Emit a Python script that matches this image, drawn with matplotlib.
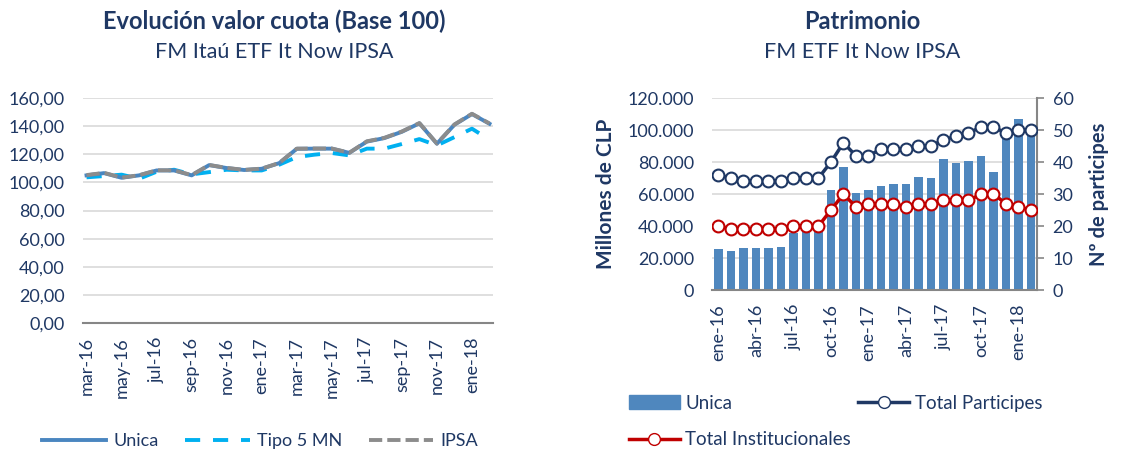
import matplotlib.pyplot as plt
from matplotlib.patches import Patch
from matplotlib.lines import Line2D
from matplotlib.ticker import FuncFormatter

# Evolucion valor cuota (mar-16 .. feb-18)
months_left = [
    "mar-16", "abr-16", "may-16", "jun-16", "jul-16", "ago-16",
    "sep-16", "oct-16", "nov-16", "dic-16", "ene-17", "feb-17",
    "mar-17", "abr-17", "may-17", "jun-17", "jul-17", "ago-17",
    "sep-17", "oct-17", "nov-17", "dic-17", "ene-18", "feb-18",
]
unica = [105.0, 106.6, 103.3, 105.0, 108.5, 108.5, 105.0, 112.3, 110.2, 108.8, 109.7, 113.7,
         123.9, 124.0, 124.0, 121.0, 129.0, 131.5, 136.0, 142.0, 127.5, 141.0, 148.6, 141.7]
tipo5 = [103.6, 104.5, 105.5, 102.6, 107.6, 109.0, 105.7, 107.3, 109.0, 108.5, 108.5, 112.6,
         118.0, 119.7, 120.9, 119.2, 124.0, 124.0, 127.3, 130.8, 126.3, 132.2, 138.2, 130.3]
ipsa = [105.2, 106.8, 103.4, 105.1, 108.6, 108.6, 105.2, 112.4, 110.3, 108.9, 109.8, 113.8,
        124.0, 124.1, 124.1, 121.1, 129.2, 131.7, 136.2, 142.2, 127.6, 141.2, 148.8, 141.9]

# Patrimonio (ene-16 .. feb-18)
months_right = [
    "ene-16", "feb-16", "mar-16", "abr-16", "may-16", "jun-16", "jul-16",
    "ago-16", "sep-16", "oct-16", "nov-16", "dic-16", "ene-17", "feb-17",
    "mar-17", "abr-17", "may-17", "jun-17", "jul-17", "ago-17", "sep-17",
    "oct-17", "nov-17", "dic-17", "ene-18", "feb-18",
]
patrimonio = [25500, 24600, 26300, 26300, 26300, 26700, 35500, 37200, 38000, 62400, 77000, 60800, 62400,
              65100, 66000, 66000, 70400, 70000, 82000, 79700, 80400, 83500, 73900, 95500, 106900, 98500]
total_participes = [36, 35, 34, 34, 34, 34, 35, 35, 35, 40, 46, 42, 42,
                    44, 44, 44, 45, 45, 47, 48, 49, 51, 51, 49, 50, 50]
total_institucionales = [20, 19, 19, 19, 19, 19, 20, 20, 20, 25, 30, 26, 27,
                         27, 27, 26, 27, 27, 28, 28, 28, 30, 30, 27, 26, 25]

navy = "#1f3864"
grid_c = "#d9d9d9"
bar_c = "#4f87be"
plt.rcParams["font.family"] = ["Lato", "DejaVu Sans"]

fig = plt.figure(figsize=(11.25, 4.54), dpi=100)

# ---------------- left chart ----------------
ax1 = fig.add_axes([0.0738, 0.2885, 0.3644, 0.4956])
x1 = range(len(months_left))
ax1.plot(x1, unica, color="#4a86c0", lw=2.8, label="Unica", zorder=3)
ax1.plot(x1, tipo5, color="#00b0f0", lw=2.8, ls=(0, (3.9, 3.3)), label="Tipo 5 MN", zorder=2)
ax1.plot(x1, ipsa, color="#8c8c8c", lw=2.8, ls=(0, (3.4, 1.3)), label="IPSA", zorder=4)
ax1.set_ylim(0, 160)
ax1.set_xlim(-0.2, len(months_left) - 0.8)
ax1.set_yticks(range(0, 161, 20))
ax1.yaxis.set_major_formatter(FuncFormatter(lambda v, p: f"{v:.2f}".replace(".", ",")))
ax1.set_xticks(list(x1)[::2])
ax1.set_xticklabels(months_left[::2], rotation=90)
ax1.grid(axis="y", color=grid_c, lw=1.2)
ax1.set_axisbelow(True)
for s in ["top", "right", "left"]:
    ax1.spines[s].set_visible(False)
ax1.spines["bottom"].set_color("#868686")
ax1.spines["bottom"].set_linewidth(1.5)
ax1.tick_params(length=0, colors=navy, labelsize=13)
ax1.tick_params(axis="y", pad=13)
ax1.tick_params(axis="x", pad=10)
fig.text(0.244, 0.952, "Evolución valor cuota (Base 100)", ha="center", va="center",
         fontsize=17, fontweight="bold", color=navy)
fig.text(0.244, 0.885, "FM Itaú ETF It Now IPSA", ha="center", va="center", fontsize=15.5, color=navy)
fig.legend(handles=ax1.get_lines(), loc="center", bbox_to_anchor=(0.231, 0.029), ncol=3,
           frameon=False, fontsize=13, handlelength=3.55, columnspacing=1.5, handletextpad=0.4,
           labelcolor=navy)

# ---------------- right chart ----------------
ax2 = fig.add_axes([0.633, 0.361, 0.289, 0.423])
x2 = range(len(months_right))
ax2.bar(x2, patrimonio, width=0.68, color=bar_c, zorder=2)
ax2.set_ylim(0, 120000)
ax2.set_xlim(-0.5, len(months_right) - 0.5)
ax2.set_yticks(range(0, 120001, 20000))
ax2.yaxis.set_major_formatter(FuncFormatter(lambda v, p: f"{int(v):,}".replace(",", ".")))
ax2.set_xticks(list(x2)[::3])
ax2.set_xticklabels(months_right[::3], rotation=90)
ax2.grid(axis="y", color=grid_c, lw=1.2)
ax2.set_axisbelow(True)
for s in ["top", "right", "left"]:
    ax2.spines[s].set_visible(False)
ax2.spines["bottom"].set_color("#868686")
ax2.spines["bottom"].set_linewidth(1.5)
ax2.tick_params(length=0, colors=navy, labelsize=13)
ax2.tick_params(axis="y", pad=13)
ax2.tick_params(axis="x", pad=10)
ax2.set_ylabel("Millones de CLP", fontsize=15, fontweight="bold", color=navy, labelpad=8)

ax3 = ax2.twinx()
ax3.plot(x2, total_participes, color=navy, lw=2.5, marker="o", ms=8.5,
         mfc="white", mec=navy, mew=1.5, zorder=3)
ax3.plot(x2, total_institucionales, color="#c00000", lw=2.5, marker="o", ms=8.5,
         mfc="white", mec="#c00000", mew=1.5, zorder=3)
ax3.set_ylim(0, 60)
ax3.set_yticks(range(0, 61, 10))
for s in ["top", "left", "bottom"]:
    ax3.spines[s].set_visible(False)
ax3.spines["right"].set_color("#868686")
ax3.spines["right"].set_linewidth(1.5)
ax3.tick_params(axis="y", length=5, color="#868686", width=1.2, labelcolor=navy, labelsize=13, pad=6)
ax3.set_ylabel("Nº de participes", fontsize=14.5, fontweight="bold", color=navy, labelpad=11)

fig.text(0.766, 0.952, "Patrimonio", ha="center", va="center",
         fontsize=17, fontweight="bold", color=navy)
fig.text(0.766, 0.885, "FM ETF It Now IPSA", ha="center", va="center", fontsize=15.5, color=navy)

handles = [
    Patch(color=bar_c, label="Unica"),
    Line2D([], [], color="#c00000", lw=2.5, marker="o", ms=8.5, mfc="white", mec="#c00000",
           label="Total Institucionales"),
    Line2D([], [], color=navy, lw=2.5, marker="o", ms=8.5, mfc="white", mec=navy,
           label="Total Participes"),
]
fig.legend(handles=handles, loc="upper left", bbox_to_anchor=(0.544, 0.168), ncol=2,
           frameon=False, fontsize=13.5, handlelength=2.7, columnspacing=0.4, handletextpad=0.3,
           labelcolor=navy, labelspacing=1.05)

fig.savefig("out.png", dpi=100)
